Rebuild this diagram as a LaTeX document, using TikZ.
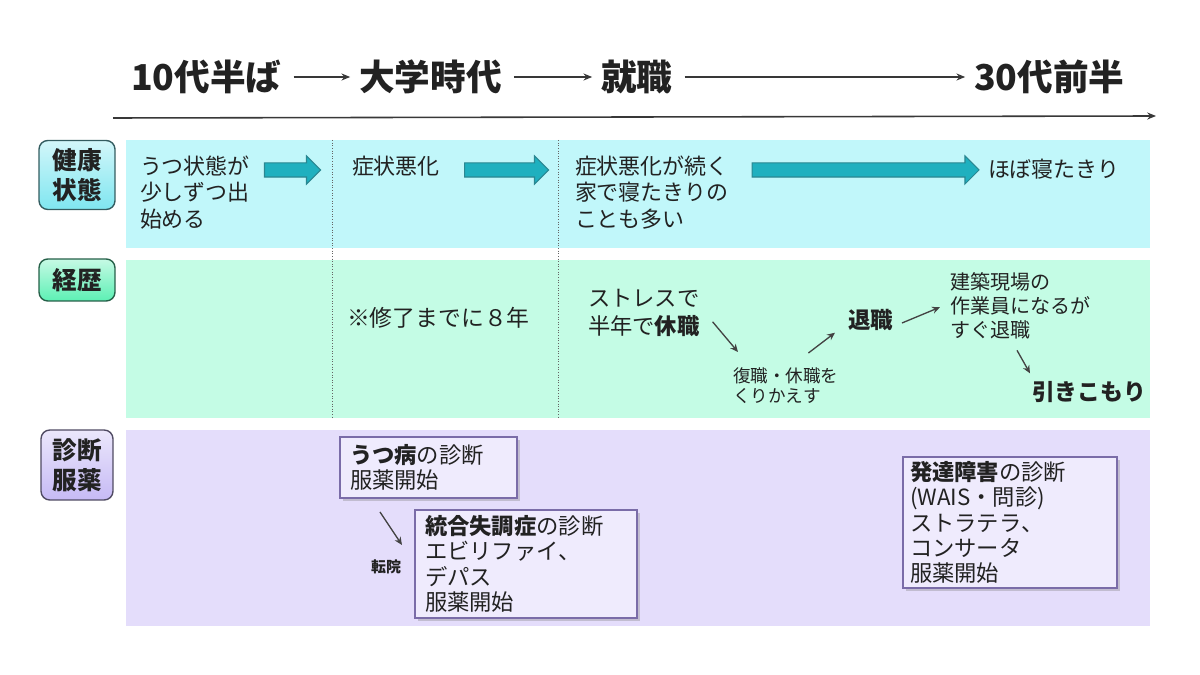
\documentclass[tikz,border=0pt]{standalone}
\usepackage{fontspec}
\setmainfont{Noto Sans CJK JP}
\usetikzlibrary{arrows.meta,positioning,shapes.arrows,shadows}

\definecolor{ink}{HTML}{222222}
\definecolor{healthbg}{HTML}{C1F7FA}
\definecolor{healthtag}{HTML}{7FE6F0}
\definecolor{careerbg}{HTML}{C4FCE5}
\definecolor{careertag}{HTML}{5CF0B4}
\definecolor{medbg}{HTML}{E4DDFB}
\definecolor{medtag}{HTML}{C6BAF5}
\definecolor{arrowfill}{HTML}{1FB0BF}
\definecolor{arrowline}{HTML}{2A8791}
\definecolor{boxline}{HTML}{7A6CA8}

\newcommand{\fs}[2]{\fontsize{#1}{#2}\selectfont}

\begin{document}
\begin{tikzpicture}[x=0.02cm,y=-0.02cm,
	every node/.style={inner sep=0pt,outer sep=0pt,text=ink},
	era/.style={anchor=west,font=\fs{20.3}{22}\bfseries},
	era arrow/.style={draw=ink!90,line width=0.75pt,shorten <=7pt,shorten >=5pt,-{Stealth[length=5pt,width=4pt]}},
	tag/.style={draw,rounded corners=5pt,line width=0.8pt,align=center,font=\fs{14}{17}\bfseries,minimum width=1.52cm},
	note/.style={anchor=north west,align=left,font=\fs{12.5}{15}},
	flow/.style={single arrow,draw=arrowline,fill=arrowfill,line width=0.6pt,inner sep=0pt,inner ysep=0.13cm,single arrow head extend=0.14cm},
	thin arrow/.style={draw=ink!85,line width=0.75pt,-{Stealth[length=4.5pt,width=4pt]}},
	medbox/.style={draw=boxline,fill=medbg!60!white,line width=0.7pt,anchor=north west,align=left,inner xsep=0.2cm,font=\fs{12.7}{14.4},drop shadow={shadow xshift=1.5pt,shadow yshift=-1.5pt,opacity=.35}}
	]
	\useasboundingbox (0,0) rectangle (1200,675);
	
	% time line
	\node[era] (t1) at (131,77) {10代半ば};
	\node[era] (t2) at (359,77) {大学時代};
	\node[era] (t3) at (601,77) {就職};
	\node[era] (t4) at (974,77) {30代前半};
	\draw[era arrow] (t1) -- (t2);
	\draw[era arrow] (t2) -- (t3);
	\draw[era arrow] (t3) -- (t4);
	\coordinate (tl0) at (113,118);
	\coordinate (tl1) at (1156,116);
	\draw[ink!90,line width=0.9pt,-{Stealth[length=5pt,width=4pt]}] (tl0) -- (tl1);
	
	% rows
	\fill[healthbg] (126,140) rectangle (1150,248);
	\fill[careerbg] (126,260) rectangle (1150,418);
	\fill[medbg] (126,430) rectangle (1150,626);
	\draw[ink!70,densely dotted,line width=0.5pt] (332,140) -- (332,418);
	\draw[ink!70,densely dotted,line width=0.5pt] (558,140) -- (558,418);
	
	\node[tag,draw=healthtag!40!black,top color=healthtag!35!white,bottom color=healthtag,minimum height=1.38cm] (L1) at (77,175) {健康\\状態};
	\node[tag,draw=careertag!40!black,top color=careertag!35!white,bottom color=careertag,minimum height=0.84cm] (L2) at (77,280) {経歴};
	\node[tag,draw=medtag!40!black,top color=medtag!35!white,bottom color=medtag,minimum height=1.4cm,minimum width=1.44cm] (L3) at (77,465) {診断\\服薬};
	
	% health
	\node[note] (s1) at (140,156) {うつ状態が\\少しずつ出\\始める};
	\node[note] (s2) at (352,156) {症状悪化};
	\node[note] (s3) at (575,156) {症状悪化が続く\\家で寝たきりの\\ことも多い};
	\node[note] (s4) at (988,159) {ほぼ寝たきり};
	\node[flow,minimum height=1.12cm] (f1) at (289,170) {};
	\node[flow,minimum height=1.68cm] (f2) at (503,170) {};
	\node[flow,minimum height=4.54cm] (f3) at (862,170) {};
	
	% career
	\node[anchor=west,font=\fs{13}{16}] (c1) at (347,318) {※修了までに８年};
	\node[note,font=\fs{12.7}{16}] (c2) at (588,289) {ストレスで\\半年で\textbf{休職}};
	\node[note,font=\fs{10}{11.4}] (c3) at (733,368) {復職・休職を\\くりかえす};
	\node[anchor=west,font=\fs{12.8}{15}\bfseries] (c4) at (848,320) {退職};
	\node[note,font=\fs{11.4}{13.6}] (c5) at (950,273) {建築現場の\\作業員になるが\\すぐ退職};
	\node[anchor=west,font=\fs{13}{16}\bfseries] (c6) at (1032,392) {引きこもり};
	\draw[thin arrow] ([shift={(13,9)}]c2.east) -- ([shift={(5,-16)}]c3.north west);
	\draw[thin arrow] ([shift={(-30,-15)}]c3.north east) -- ([shift={(-13,2)}]c4.south west);
	\draw[thin arrow] ([shift={(9,3)}]c4.east) -- ([shift={(-10,1)}]c5.west);
	\draw[thin arrow] ([shift={(67,11)}]c5.south west) -- ([shift={(-2,-8)}]c6.north west);
	
	% diagnosis
	\node[medbox,text width=3.14cm,minimum height=1.22cm] (m1) at (340,437) {\textbf{うつ病}の診断\\服薬開始};
	\node[medbox,text width=4.04cm,minimum height=2.16cm] (m2) at (415,510) {\textbf{統合失調症}の診断\\エビリファイ、\\デパス\\服薬開始};
	\node[medbox,text width=4.0cm,minimum height=2.62cm,inner xsep=0.14cm] (m3) at (903,457) {\textbf{発達障害}の診断\\(WAIS・問診)\\ストラテラ、\\コンサータ\\服薬開始};
	\node[font=\fs{8.5}{10}\bfseries] (tenin) at (386,567) {転院};
	\draw[thin arrow] ([shift={(40,14)}]m1.south west) -- ([shift={(-13,35)}]m2.north west);
\end{tikzpicture}
\end{document}
